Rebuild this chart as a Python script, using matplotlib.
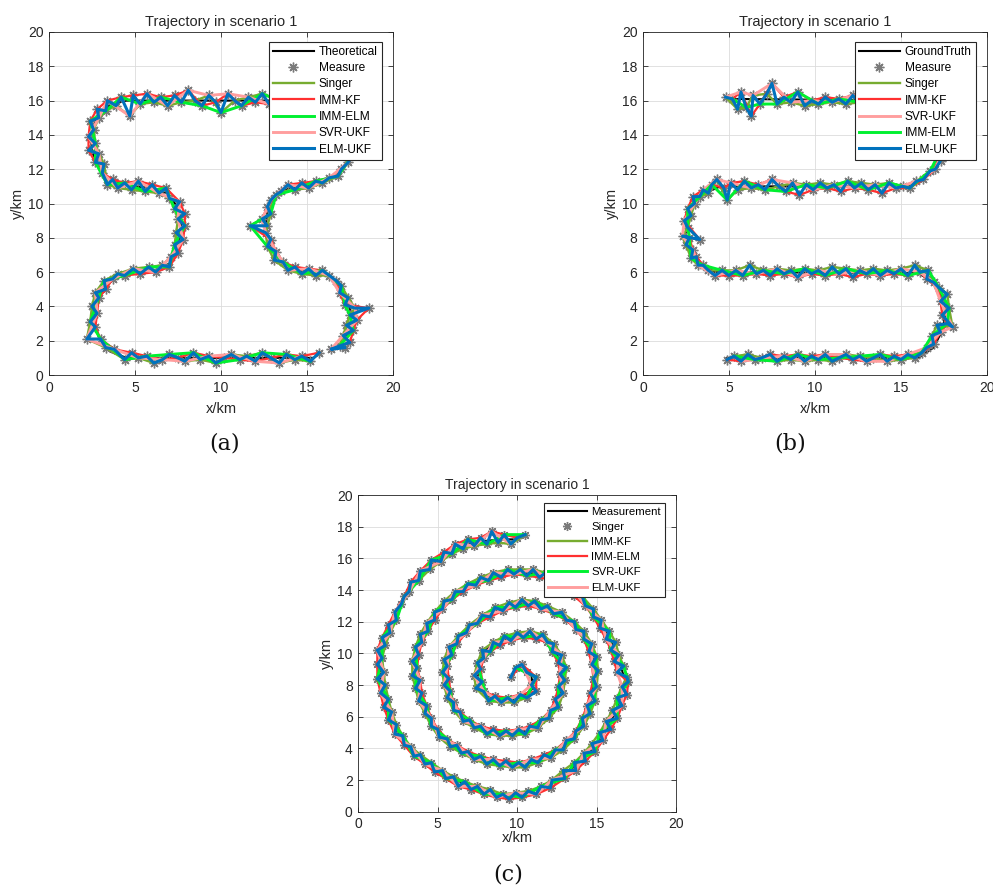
import numpy as np
import matplotlib
matplotlib.use('Agg')
import matplotlib.pyplot as plt

plt.rcParams['font.family'] = ['Liberation Sans', 'DejaVu Sans']

# ---------------- data ----------------
title_text = 'Trajectory in scenario 1'
x_ticks = [0, 5, 10, 15, 20]
y_ticks = [0, 2, 4, 6, 8, 10, 12, 14, 16, 18, 20]
panel_tags = ['(a)', '(b)', '(c)']

legend_a = ['Theoretical', 'Measure', 'Singer', 'IMM-KF', 'IMM-ELM', 'SVR-UKF', 'ELM-UKF']
legend_b = ['GroundTruth', 'Measure', 'Singer', 'IMM-KF', 'SVR-UKF', 'IMM-ELM', 'ELM-UKF']
legend_c = ['Measurement', 'Singer', 'IMM-KF', 'IMM-ELM', 'SVR-UKF', 'ELM-UKF']

truth_a = [(15.4, 1.0), (4.5, 1.0), (3.5, 1.4), (2.9, 2.2), (2.6, 3.2), (2.7, 4.2), (3.2, 5.1),
           (3.9, 5.7), (4.8, 6.0), (6.3, 6.1), (7.0, 6.5), (7.4, 7.2), (7.6, 8.0), (7.7, 9.0),
           (7.4, 9.9), (6.9, 10.6), (6.0, 10.9), (5.0, 11.0), (4.0, 11.2), (3.4, 11.5), (2.9, 12.2),
           (2.5, 13.0), (2.45, 13.8), (2.6, 14.6), (3.0, 15.3), (3.6, 15.8), (4.5, 16.0), (16.3, 16.0),
           (17.2, 15.4), (17.8, 14.3), (17.7, 13.0), (17.1, 12.1), (16.3, 11.4), (15.3, 11.1),
           (13.9, 10.9), (13.1, 10.4), (12.7, 9.6), (12.6, 8.6), (12.9, 7.6), (13.5, 6.6), (14.5, 6.1),
           (16.0, 5.9), (16.8, 5.3), (17.4, 4.4), (17.6, 3.4), (17.4, 2.4), (16.9, 1.6)]

meas_a = [(15.7, 1.3), (15.2, 0.8), (14.7, 1.1), (14.3, 0.9), (13.8, 1.2), (13.4, 0.7), (12.9, 1.0),
          (12.4, 1.3), (12.0, 0.8), (11.5, 1.1), (11.1, 0.9), (10.6, 1.2), (10.2, 1.0), (9.7, 0.7),
          (9.3, 1.1), (8.8, 0.9), (8.4, 1.3), (7.9, 0.8), (7.5, 1.0), (7.0, 1.2), (6.6, 0.9),
          (6.1, 0.7), (5.7, 1.1), (5.2, 1.0), (4.8, 1.3), (4.4, 0.9), (3.8, 1.5), (3.3, 1.6),
          (3.0, 2.1), (2.2, 2.1), (2.7, 2.8), (2.4, 3.1), (2.8, 3.6), (2.5, 4.0), (2.9, 4.5),
          (2.7, 4.8), (3.3, 5.0), (3.2, 5.5), (3.7, 5.6), (4.0, 5.9), (4.4, 5.8), (4.9, 6.2),
          (5.3, 5.9), (5.8, 6.3), (6.2, 6.0), (6.6, 6.4), (7.0, 6.3), (7.1, 6.9), (7.5, 7.1),
          (7.3, 7.6), (7.8, 7.9), (7.4, 8.3), (7.9, 8.7), (7.5, 9.1), (7.9, 9.4), (7.3, 9.7),
          (7.6, 10.1), (7.0, 10.3), (6.8, 10.9), (6.4, 10.6), (6.0, 11.1), (5.6, 10.7), (5.2, 11.3),
          (4.8, 10.8), (4.4, 11.2), (4.0, 10.9), (3.7, 11.4), (3.4, 11.1), (3.1, 11.8), (3.2, 12.3),
          (2.7, 12.4), (2.9, 12.9), (2.3, 13.1), (2.7, 13.5), (2.3, 13.9), (2.6, 14.3), (2.4, 14.8),
          (2.9, 15.0), (2.8, 15.5), (3.3, 15.4), (3.4, 16.0), (3.9, 15.7), (4.2, 16.2), (4.7, 15.1),
          (4.9, 16.3), (5.3, 15.8), (5.7, 16.4), (6.1, 15.9), (6.5, 16.2), (6.9, 15.7), (7.3, 16.3),
          (7.7, 15.9), (8.1, 16.6), (8.5, 16.0), (8.9, 15.7), (9.3, 16.3), (9.7, 15.9), (10.0, 15.3),
          (10.4, 16.4), (10.8, 16.0), (11.2, 15.7), (11.6, 16.2), (12.0, 15.9), (12.4, 16.4),
          (12.8, 15.8), (13.2, 16.1), (13.6, 15.9), (14.0, 16.2), (14.5, 15.9), (14.9, 16.1),
          (15.3, 15.8), (15.8, 16.1), (16.3, 15.9), (16.8, 15.7), (17.3, 15.2), (17.7, 14.6),
          (17.9, 14.0), (17.8, 13.4), (17.6, 12.8), (17.4, 12.4), (17.0, 12.0), (16.8, 11.6),
          (16.3, 11.5), (15.9, 11.2), (15.5, 11.3), (15.1, 10.9), (14.7, 11.2), (14.3, 10.8),
          (13.9, 11.1), (13.5, 10.7), (13.2, 10.5), (12.9, 10.2), (12.7, 9.8), (12.9, 9.4),
          (12.4, 9.1), (12.7, 8.7), (11.7, 8.7), (12.6, 8.3), (12.9, 7.9), (12.7, 7.5), (13.2, 7.2),
          (13.1, 6.7), (13.6, 6.6), (13.9, 6.1), (14.3, 6.3), (14.7, 5.9), (15.1, 6.2), (15.5, 5.8),
          (15.9, 6.1), (16.3, 5.8), (16.7, 5.5), (17.0, 5.2), (16.9, 4.8), (17.4, 4.5), (17.2, 4.1),
          (17.8, 3.9), (18.6, 3.9), (17.5, 3.5), (17.9, 3.2), (17.3, 2.9), (17.7, 2.6), (17.1, 2.3),
          (17.5, 1.9), (16.9, 1.7), (16.4, 1.5), (17.2, 1.6)]

truth_b = [(4.9, 1.0), (16.0, 1.0), (16.9, 1.6), (17.4, 2.6), (17.6, 3.6), (17.4, 4.6), (16.9, 5.4),
           (16.0, 5.95), (4.2, 6.0), (3.3, 6.5), (2.7, 7.3), (2.5, 8.2), (2.6, 9.2), (3.0, 10.0),
           (3.6, 10.6), (4.5, 11.0), (15.5, 11.0), (16.4, 11.5), (17.1, 12.3), (17.6, 13.4),
           (17.7, 14.6), (17.3, 15.4), (16.5, 15.9), (15.5, 16.0), (4.9, 16.1)]

meas_b = [(4.9, 0.9), (5.3, 1.1), (5.7, 0.8), (6.1, 1.2), (6.5, 0.9), (6.9, 1.0), (7.4, 1.2),
          (7.8, 0.8), (8.2, 1.1), (8.6, 0.9), (9.0, 1.2), (9.4, 0.8), (9.8, 1.1), (10.2, 0.9),
          (10.6, 1.2), (11.0, 0.8), (11.4, 1.0), (11.8, 1.2), (12.2, 0.9), (12.6, 1.1), (13.0, 0.8),
          (13.4, 1.0), (13.8, 1.2), (14.2, 0.8), (14.6, 1.1), (15.0, 0.9), (15.4, 1.2), (15.8, 1.0),
          (16.2, 1.3), (16.5, 1.6), (16.9, 1.8), (16.8, 2.3), (17.3, 2.5), (17.1, 2.9), (17.7, 3.0),
          (18.0, 2.8), (17.4, 3.5), (17.8, 3.9), (17.3, 4.3), (17.7, 4.7), (17.2, 5.1), (16.9, 5.4),
          (16.5, 5.6), (16.6, 6.1), (16.1, 6.0), (15.8, 6.4), (15.4, 5.8), (15.0, 6.2), (14.6, 5.9),
          (14.2, 6.1), (13.8, 5.8), (13.4, 6.2), (13.0, 5.9), (12.6, 6.1), (12.2, 5.7), (11.8, 6.2),
          (11.4, 5.9), (11.0, 6.3), (10.6, 5.8), (10.2, 6.1), (9.8, 5.9), (9.4, 6.2), (9.0, 5.7),
          (8.6, 6.1), (8.2, 5.9), (7.8, 6.2), (7.4, 5.8), (7.0, 6.1), (6.6, 5.9), (6.2, 6.4),
          (5.8, 5.8), (5.4, 6.1), (5.0, 5.8), (4.6, 6.1), (4.2, 5.8), (3.8, 6.1), (3.5, 6.4),
          (3.2, 6.4), (3.1, 6.9), (2.8, 6.8), (2.9, 7.3), (2.5, 7.6), (2.7, 8.0), (2.3, 8.1),
          (3.3, 7.9), (2.6, 8.6), (2.4, 9.0), (2.8, 9.3), (2.6, 9.7), (3.0, 10.0), (2.9, 10.4),
          (3.3, 10.4), (3.5, 10.8), (3.8, 10.6), (4.0, 11.1), (4.3, 11.4), (4.7, 10.9), (4.9, 10.2),
          (5.1, 11.2), (5.5, 10.8), (5.9, 11.3), (6.3, 10.9), (6.7, 11.1), (7.1, 10.8), (7.5, 11.4),
          (7.9, 11.0), (8.3, 10.7), (8.7, 11.2), (9.1, 10.5), (9.5, 11.1), (9.9, 10.8), (10.3, 11.2),
          (10.7, 10.9), (11.1, 11.1), (11.5, 10.7), (11.9, 11.3), (12.3, 10.9), (12.7, 11.2),
          (13.1, 10.8), (13.5, 11.1), (13.9, 10.6), (14.3, 11.2), (14.7, 10.9), (15.1, 11.0),
          (15.5, 10.9), (15.9, 11.3), (16.3, 11.4), (16.7, 11.9), (17.0, 12.0), (17.3, 12.5),
          (17.2, 12.9), (17.6, 13.5), (17.8, 14.2), (17.7, 14.9), (17.3, 15.5), (16.8, 15.9),
          (16.3, 16.1), (15.8, 15.9), (15.4, 16.2), (15.0, 15.8), (14.6, 16.1), (14.2, 15.9),
          (13.8, 16.2), (13.4, 15.8), (13.0, 16.1), (12.6, 15.9), (12.2, 16.3), (11.8, 15.8),
          (11.4, 16.1), (11.0, 15.9), (10.6, 16.2), (10.2, 15.8), (9.8, 16.0), (9.4, 15.7),
          (9.0, 16.5), (8.6, 15.9), (8.2, 16.2), (7.8, 15.8), (7.5, 17.0), (7.2, 16.4), (6.8, 15.8),
          (6.4, 16.3), (6.3, 15.1), (6.0, 15.6), (5.7, 16.5), (5.5, 15.5), (5.2, 16.1), (4.8, 16.2)]

truth_c = [(9.7, 8.7), (10.3, 9.2), (10.9, 8.6), (11.0, 7.8), (10.4, 7.3), (9.6, 7.05), (8.8, 7.1),
           (8.1, 7.3), (7.6, 8.0), (7.5, 8.8), (7.6, 9.5), (8.0, 10.2), (8.7, 10.7), (9.6, 11.0),
           (10.6, 11.1), (11.5, 11.0), (12.1, 10.5), (12.6, 9.7), (12.8, 8.8), (12.8, 7.9),
           (12.5, 7.0), (12.1, 6.1), (11.4, 5.5), (10.5, 5.1), (9.5, 4.95), (8.5, 5.0), (7.5, 5.3),
           (6.8, 5.8), (6.2, 6.5), (5.8, 7.3), (5.5, 8.2), (5.5, 9.1), (5.7, 9.9), (6.2, 10.8),
           (6.9, 11.5), (7.7, 12.1), (8.7, 12.7), (9.7, 13.1), (10.9, 13.1), (12.0, 12.8),
           (13.0, 12.3), (13.8, 11.7), (14.4, 10.9), (14.8, 10.0), (14.9, 9.0), (14.8, 7.9),
           (14.6, 6.9), (14.2, 5.8), (13.6, 4.8), (12.8, 4.0), (11.9, 3.5), (10.8, 3.1), (9.8, 3.0),
           (8.7, 3.1), (7.7, 3.4), (6.7, 3.8), (5.8, 4.4), (5.0, 5.1), (4.4, 6.0), (4.0, 7.0),
           (3.7, 8.0), (3.6, 9.0), (3.7, 10.1), (4.0, 11.0), (4.5, 11.9), (5.1, 12.7), (5.8, 13.4),
           (6.7, 14.0), (7.7, 14.5), (8.8, 14.9), (9.9, 15.1), (11.0, 15.05), (12.0, 14.8),
           (13.0, 14.3), (13.9, 13.6), (14.6, 12.8), (15.2, 11.9), (15.8, 11.0), (16.2, 10.1),
           (16.5, 9.2), (16.8, 8.3), (16.6, 7.5), (16.4, 6.7), (16.0, 5.9), (15.6, 5.1), (15.0, 4.3),
           (14.3, 3.5), (13.5, 2.8), (12.6, 2.2), (11.7, 1.6), (10.7, 1.2), (9.7, 1.0), (8.7, 1.1),
           (7.7, 1.3), (6.8, 1.7), (5.8, 2.2), (4.9, 2.7), (4.1, 3.3), (3.4, 3.9), (2.7, 4.6),
           (2.2, 5.5), (1.8, 6.4), (1.6, 7.4), (1.4, 8.4), (1.4, 9.5), (1.5, 10.5), (1.8, 11.5),
           (2.3, 12.4), (2.8, 13.4), (3.3, 14.2), (4.1, 15.1), (5.0, 15.9), (6.0, 16.5), (7.0, 16.9),
           (8.0, 17.1), (9.0, 17.2), (10.0, 17.2), (10.5, 17.4)]

meas_c = [(9.6, 8.5), (9.9, 9.1), (10.3, 9.3), (10.6, 8.8), (11.2, 8.5), (10.9, 8.0), (11.2, 7.6),
          (10.6, 7.2), (10.2, 7.4), (9.8, 6.9), (9.4, 7.2), (9.0, 6.9), (8.6, 7.3), (8.2, 7.0),
          (7.9, 7.6), (7.4, 7.8), (7.8, 8.2), (7.3, 8.6), (7.7, 9.0), (7.5, 9.4), (7.9, 9.7),
          (7.8, 10.2), (8.3, 10.1), (8.5, 10.7), (8.9, 10.5), (9.2, 11.1), (9.6, 10.8), (10.0, 11.3),
          (10.4, 11.0), (10.8, 11.4), (11.2, 10.9), (11.6, 11.2), (11.9, 10.7), (12.3, 10.6),
          (12.2, 10.1), (12.8, 9.9), (12.6, 9.4), (13.1, 9.1), (12.7, 8.7), (13.0, 8.3), (12.6, 7.9),
          (12.9, 7.5), (12.4, 7.1), (12.6, 6.6), (12.1, 6.4), (12.0, 5.9), (11.5, 5.8), (11.3, 5.3),
          (10.8, 5.4), (10.5, 4.9), (10.1, 5.2), (9.7, 4.8), (9.3, 5.1), (8.9, 4.8), (8.5, 5.2),
          (8.1, 4.9), (7.7, 5.4), (7.3, 5.3), (7.0, 5.8), (6.6, 5.7), (6.4, 6.3), (6.0, 6.4),
          (6.0, 6.9), (5.6, 7.2), (5.8, 7.6), (5.4, 8.0), (5.7, 8.4), (5.3, 8.8), (5.6, 9.2),
          (5.4, 9.6), (5.9, 9.9), (5.7, 10.4), (6.2, 10.6), (6.3, 11.1), (6.8, 11.3), (7.0, 11.8),
          (7.5, 11.9), (7.8, 12.4), (8.3, 12.3), (8.6, 12.9), (9.1, 12.7), (9.5, 13.2), (9.9, 12.9),
          (10.3, 13.4), (10.7, 13.0), (11.1, 13.3), (11.5, 12.8), (11.9, 13.0), (12.3, 12.5),
          (12.8, 12.6), (13.1, 12.1), (13.6, 12.0), (13.7, 11.5), (14.2, 11.4), (14.2, 10.9),
          (14.7, 10.6), (14.5, 10.1), (15.0, 9.8), (14.7, 9.3), (15.1, 8.9), (14.8, 8.4), (15.0, 7.9),
          (14.6, 7.5), (14.9, 7.0), (14.4, 6.7), (14.6, 6.2), (14.1, 5.9), (14.2, 5.4), (13.7, 5.1),
          (13.6, 4.6), (13.1, 4.5), (12.9, 3.9), (12.4, 3.9), (12.1, 3.4), (11.7, 3.6), (11.3, 3.1),
          (10.9, 3.3), (10.5, 2.8), (10.1, 3.1), (9.7, 2.8), (9.3, 3.2), (8.9, 2.9), (8.5, 3.3),
          (8.1, 3.0), (7.7, 3.5), (7.3, 3.3), (6.9, 3.8), (6.5, 3.7), (6.2, 4.2), (5.8, 4.1),
          (5.6, 4.6), (5.1, 4.7), (5.0, 5.2), (4.6, 5.4), (4.6, 5.9), (4.2, 6.2), (4.3, 6.7),
          (3.8, 7.0), (4.0, 7.5), (3.6, 7.8), (3.9, 8.3), (3.4, 8.6), (3.7, 9.1), (3.4, 9.5),
          (3.8, 9.9), (3.6, 10.4), (4.0, 10.7), (3.9, 11.2), (4.4, 11.4), (4.3, 11.9), (4.8, 12.1),
          (4.8, 12.6), (5.3, 12.8), (5.4, 13.3), (5.9, 13.4), (6.1, 13.9), (6.6, 13.9), (6.9, 14.4),
          (7.4, 14.3), (7.7, 14.8), (8.2, 14.6), (8.5, 15.1), (9.0, 14.8), (9.4, 15.3), (9.8, 15.0),
          (10.2, 15.3), (10.6, 14.9), (11.0, 15.3), (11.4, 14.8), (11.8, 15.1), (12.2, 14.6),
          (12.6, 14.7), (12.9, 14.1), (13.4, 14.2), (13.6, 13.6), (14.1, 13.6), (14.3, 13.0),
          (14.8, 12.8), (14.8, 12.3), (15.3, 12.1), (15.2, 11.6), (15.8, 11.4), (15.6, 10.9),
          (16.2, 10.7), (15.9, 10.2), (16.4, 9.9), (16.1, 9.5), (16.7, 9.2), (16.3, 8.8), (16.9, 8.5),
          (17.0, 8.2), (16.6, 7.9), (16.9, 7.4), (16.3, 7.2), (16.6, 6.7), (16.0, 6.4), (16.3, 5.9),
          (15.6, 5.7), (15.9, 5.2), (15.2, 5.0), (15.4, 4.5), (14.7, 4.3), (14.9, 3.8), (14.2, 3.7),
          (14.3, 3.2), (13.6, 3.1), (13.7, 2.6), (12.9, 2.6), (13.0, 2.1), (12.2, 2.0), (12.1, 1.5),
          (11.5, 1.6), (11.2, 1.1), (10.7, 1.3), (10.3, 0.9), (9.9, 1.2), (9.5, 0.8), (9.1, 1.1),
          (8.7, 0.9), (8.3, 1.4), (7.9, 1.1), (7.5, 1.6), (7.1, 1.4), (6.7, 1.9), (6.3, 1.6),
          (6.0, 2.2), (5.5, 2.1), (5.3, 2.6), (4.8, 2.5), (4.6, 3.1), (4.2, 3.0), (3.9, 3.6),
          (3.5, 3.5), (3.3, 4.1), (2.9, 4.2), (2.8, 4.8), (2.3, 4.9), (2.4, 5.5), (1.9, 5.8),
          (2.1, 6.3), (1.6, 6.6), (1.9, 7.1), (1.4, 7.5), (1.7, 8.0), (1.2, 8.4), (1.6, 8.8),
          (1.2, 9.3), (1.5, 9.7), (1.2, 10.2), (1.7, 10.5), (1.5, 11.0), (2.0, 11.3), (1.9, 11.8),
          (2.4, 12.1), (2.3, 12.6), (2.7, 13.1), (2.9, 13.6), (3.2, 13.9), (3.3, 14.5), (3.8, 14.6),
          (3.9, 15.2), (4.5, 15.3), (4.6, 15.9), (5.2, 15.8), (5.4, 16.4), (5.9, 16.3), (6.1, 16.9),
          (6.6, 16.6), (6.9, 17.2), (7.3, 16.8), (7.7, 17.3), (8.1, 16.9), (8.4, 17.7), (8.8, 17.0),
          (9.2, 17.5), (9.6, 16.9), (10.0, 17.3), (10.5, 17.5)]

# ---------------- styles ----------------
C_TRUTH = '#000000'
C_MEAS = '#7a7a7a'
C_OLIVE = '#77AC30'
C_RED = '#FF3030'
C_BGREEN = '#00F030'
C_PINK = '#FF9E9E'
C_BLUE = '#0072BD'

# (color, linewidth, slice start, slice step) of the five estimate curves, in plotting order
est_a = [(C_OLIVE, 1.7, 1, 2), (C_RED, 1.6, 0, 2), (C_BGREEN, 2.1, 1, 3), (C_PINK, 2.1, 2, 3), (C_BLUE, 2.2, 0, 1)]
est_b = [(C_OLIVE, 1.7, 1, 2), (C_RED, 1.6, 0, 2), (C_PINK, 2.1, 2, 3), (C_BGREEN, 2.1, 1, 3), (C_BLUE, 2.2, 0, 1)]
est_c = [(C_OLIVE, 1.7, 1, 2), (C_RED, 1.6, 0, 2), (C_BGREEN, 2.1, 1, 3), (C_PINK, 2.1, 2, 3), (C_BLUE, 2.2, 0, 1)]

STAR = (8, 2, 0)

fig = plt.figure(figsize=(9.93, 8.91), dpi=100)


def draw_panel(rect, truth, meas, est, labels, title_fs, leg_fs, leg_anchor, leg_spacing, ms, xpad):
    ax = fig.add_axes(rect)
    tx, ty = np.array(truth).T
    mx, my = np.array(meas).T
    handles = []
    h, = ax.plot(tx, ty, color=C_TRUTH, lw=1.5)
    handles.append(h)
    h, = ax.plot(mx, my, ls='none', marker=STAR, ms=ms, mew=1.0, mec=C_MEAS, color=C_MEAS)
    handles.append(h)
    for color, lw, s0, st in est:
        h, = ax.plot(mx[s0::st], my[s0::st], color=color, lw=lw)
        handles.append(h)
    ax.set_xlim(0, 20)
    ax.set_ylim(0, 20)
    ax.set_xticks(x_ticks)
    ax.set_yticks(y_ticks)
    ax.grid(True, color='#DCDCDC', lw=0.6)
    ax.set_axisbelow(True)
    ax.tick_params(direction='in', length=3.5, width=0.6, top=True, right=True,
                   labelsize=10, colors='#262626', pad=4)
    for s in ax.spines.values():
        s.set_color('#262626')
        s.set_linewidth(0.6)
    ax.set_title(title_text, fontsize=title_fs, color='#262626', pad=4)
    ax.set_xlabel('x/km', fontsize=10.5, color='#262626', labelpad=xpad)
    ax.set_ylabel('y/km', fontsize=10.5, color='#262626', labelpad=2)
    leg = ax.legend(handles[:len(labels)], labels, loc='upper right', bbox_to_anchor=leg_anchor,
                    fontsize=leg_fs, frameon=True, fancybox=False, framealpha=1,
                    edgecolor='#262626', handlelength=3.4, handletextpad=0.4,
                    labelspacing=leg_spacing, borderpad=0.35, borderaxespad=0)
    leg.get_frame().set_linewidth(0.8)
    return ax


draw_panel([0.0493, 0.5791, 0.3464, 0.385], truth_a, meas_a, est_a, legend_a, 10.5, 8.6, (0.967, 0.972), 0.36, 7, 5)
draw_panel([0.6475, 0.5791, 0.3464, 0.385], truth_b, meas_b, est_b, legend_b, 10.5, 8.6, (0.967, 0.972), 0.36, 7, 5)
draw_panel([0.3608, 0.0890, 0.3200, 0.3554], truth_c, meas_c, est_c, legend_c, 10, 8.2, (0.965, 0.975), 0.45, 6.5, 0)

for tag, (px, py) in zip(panel_tags, [(0.2266, 0.5028), (0.7956, 0.5028), (0.5116, 0.018)]):
    fig.text(px, py, tag, ha='center', va='center', fontsize=16, family='DejaVu Serif', color='#111111')

fig.savefig('out.png', dpi=100)
